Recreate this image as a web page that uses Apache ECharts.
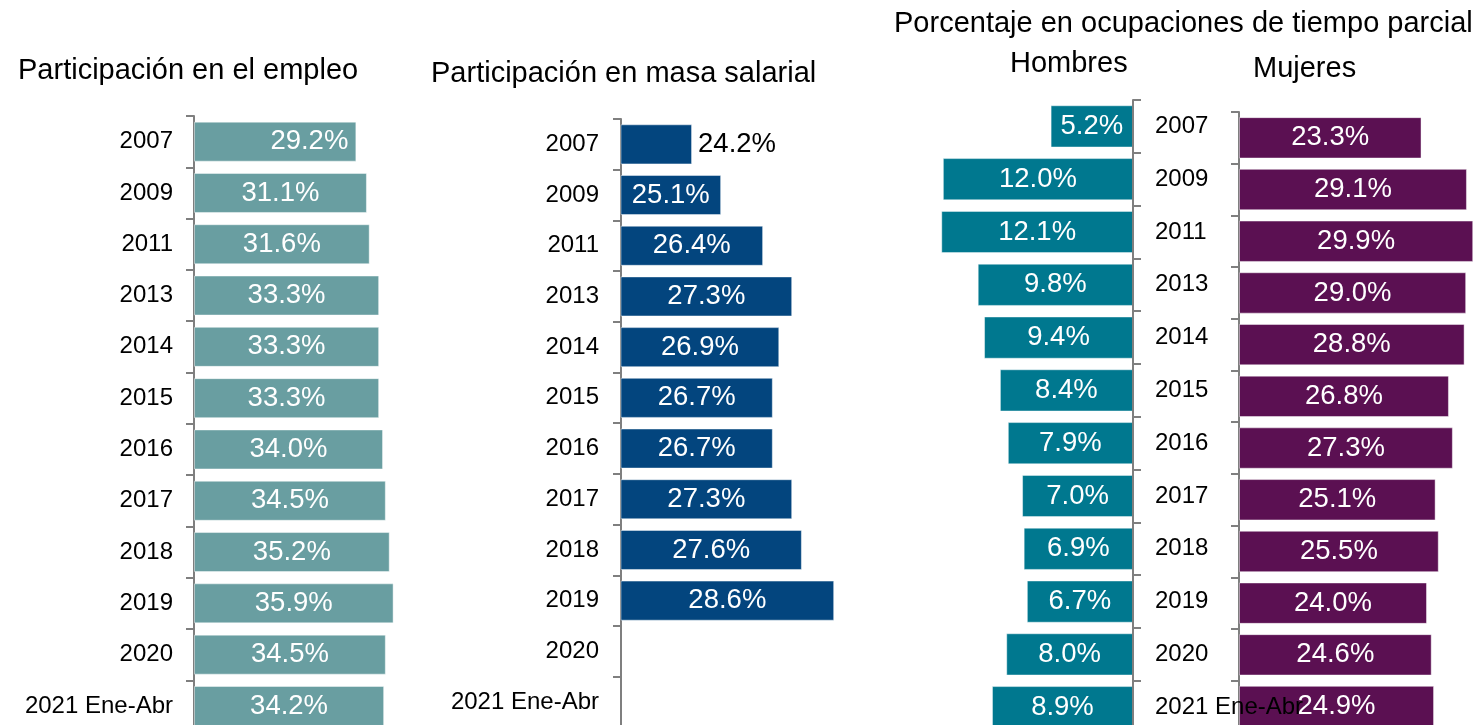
<!DOCTYPE html>
<html><head><meta charset="utf-8">
<script src="https://cdn.jsdelivr.net/npm/echarts@6/dist/echarts.min.js"></script>
<style>html,body{margin:0;padding:0;background:#fff;overflow:hidden;}#c{width:1482px;height:760px;}</style>
</head><body><div id="c"></div>
<script>
const categories = ['2007','2009','2011','2013','2014','2015','2016','2017','2018','2019','2020','2021 Ene-Abr'];
const empleo = [29.2,31.1,31.6,33.3,33.3,33.3,34.0,34.5,35.2,35.9,34.5,34.2];
const masaSalarial = [24.2,25.1,26.4,27.3,26.9,26.7,26.7,27.3,27.6,28.6,null,null];
const hombres = [5.2,12.0,12.1,9.8,9.4,8.4,7.9,7.0,6.9,6.7,8.0,8.9];
const mujeres = [23.3,29.1,29.9,29.0,28.8,26.8,27.3,25.1,25.5,24.0,24.6,24.9];
const titles = ['Participación en el empleo','Participación en masa salarial','Porcentaje en ocupaciones de tiempo parcial','Hombres','Mujeres'];

const FONT = 'Liberation Sans, Arial, sans-serif';
const fmt = p => p.value == null ? '' : p.value.toFixed(1) + '%';
const axisCol = '#7f7f7f';

function catAxis(gi, opts) {
  return Object.assign({
    type: 'category', gridIndex: gi, data: categories, inverse: true,
    axisLine: {show: true, lineStyle: {color: axisCol, width: 2}},
    axisTick: {show: true, length: 8, lineStyle: {color: axisCol, width: 2}},
    axisLabel: {color: '#000', fontSize: 24, fontFamily: FONT, margin: 21},
    splitLine: {show: false}
  }, opts);
}
function valAxis(gi, opts) {
  return Object.assign({
    type: 'value', gridIndex: gi, show: false, splitLine: {show: false}
  }, opts);
}
function labelDefault() {
  return {show: true, position: 'inside', color: '#fff', fontSize: 27.5, fontFamily: FONT, formatter: fmt};
}

const empleoData = empleo.map((v, i) => i === 0
  ? {value: v, label: {position: 'insideRight', distance: 8}} : v);
const masaData = masaSalarial.map((v, i) => i === 0
  ? {value: v, label: {position: 'right', distance: 6, color: '#000'}} : v);

const option = {
  animation: false,
  backgroundColor: '#fff',
  title: [
    {text: titles[0], left: 18, top: 56},
    {text: titles[1], left: 431, top: 59},
    {text: titles[2], left: 894, top: 9},
    {text: titles[3], left: 1010, top: 49},
    {text: titles[4], left: 1253, top: 54}
  ].map(t => Object.assign(t, {padding: 0, textStyle: {fontSize: 29, fontWeight: 'normal', color: '#000', fontFamily: FONT}})),
  grid: [
    {left: 194, top: 116, width: 222.4, height: 615.6},
    {left: 621, top: 119, width: 258.4, height: 608.4},
    {left: 927, top: 100, width: 206, height: 633.6},
    {left: 1239, top: 112, width: 235, height: 620.4}
  ],
  xAxis: [
    valAxis(0, {min: 0, max: 40}),
    valAxis(1, {min: 22, max: 30}),
    valAxis(2, {min: 0, max: 13, inverse: true}),
    valAxis(3, {min: 0, max: 30})
  ],
  yAxis: [
    catAxis(0, {}),
    catAxis(1, {axisLabel: {color: '#000', fontSize: 24, fontFamily: FONT, margin: 22}}),
    catAxis(2, {position: 'right', z: 5, axisLabel: {color: '#000', fontSize: 24, fontFamily: FONT, margin: 22}}),
    catAxis(3, {axisLabel: {show: false}})
  ],
  series: [
    {type: 'bar', xAxisIndex: 0, yAxisIndex: 0, data: empleoData, barCategoryGap: '22%',
     itemStyle: {color: '#699EA1', borderColor: 'rgba(255,255,255,0.45)', borderWidth: 1}, label: labelDefault()},
    {type: 'bar', xAxisIndex: 1, yAxisIndex: 1, data: masaData, barCategoryGap: '21%',
     itemStyle: {color: '#03457E', borderColor: 'rgba(255,255,255,0.45)', borderWidth: 1}, label: labelDefault()},
    {type: 'bar', xAxisIndex: 2, yAxisIndex: 2, data: hombres, barCategoryGap: '20%',
     itemStyle: {color: '#00788F', borderColor: 'rgba(255,255,255,0.45)', borderWidth: 1}, label: labelDefault()},
    {type: 'bar', xAxisIndex: 3, yAxisIndex: 3, data: mujeres, barCategoryGap: '20%',
     itemStyle: {color: '#5B1052', borderColor: 'rgba(255,255,255,0.45)', borderWidth: 1}, label: labelDefault()}
  ]
};
const chart = echarts.init(document.getElementById('c'), null, {renderer: 'canvas'});
chart.setOption(option);
</script>
</body></html>
